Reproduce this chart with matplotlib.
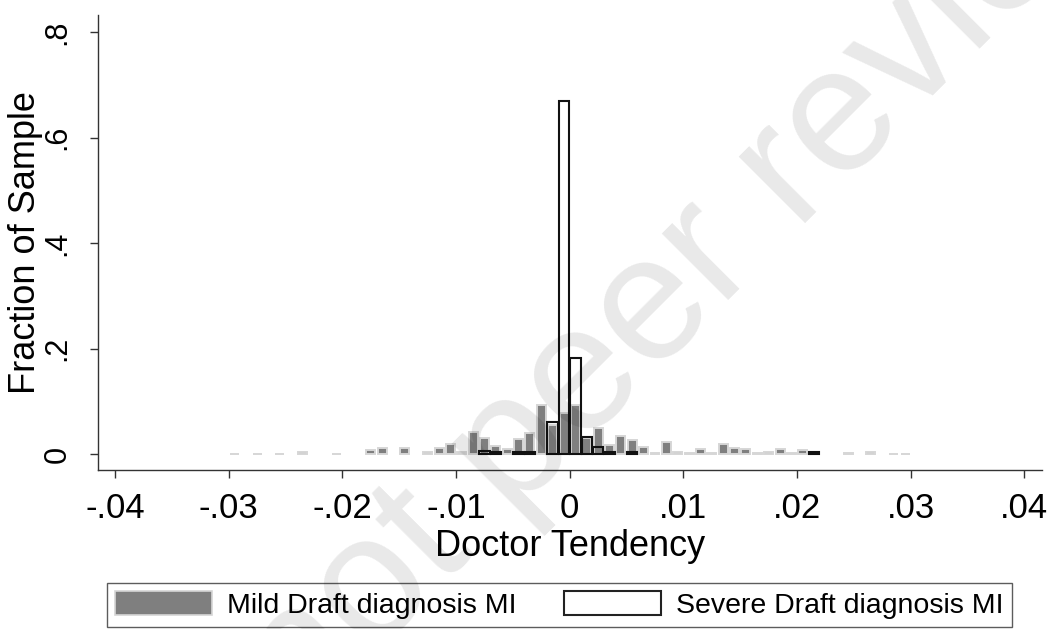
import matplotlib
matplotlib.use("Agg")
import matplotlib.pyplot as plt
from matplotlib.patches import Patch
import numpy as np

plt.rcParams['font.family'] = ['Liberation Sans', 'DejaVu Sans']

# ---- data (fraction of sample per bin of doctor tendency, bin width .001) ----
mild_centers = [-0.0295, -0.0275, -0.0255, -0.0235, -0.0205, -0.0175, -0.0165, -0.0145,
                -0.0125, -0.0115, -0.0105, -0.0095, -0.0085, -0.0075, -0.0065, -0.0055,
                -0.0045, -0.0035, -0.0025, -0.0015, -0.0005, 0.0005, 0.0015, 0.0025,
                0.0035, 0.0045, 0.0055, 0.0065, 0.0075, 0.0085, 0.0095, 0.0105,
                0.0115, 0.0125, 0.0135, 0.0145, 0.0155, 0.0165, 0.0175, 0.0185,
                0.0195, 0.0205, 0.0215, 0.0245, 0.0265, 0.0285, 0.0295]
mild_values = [0.0005, 0.0005, 0.0005, 0.003, 0.0005, 0.007, 0.012, 0.012,
               0.004, 0.011, 0.019, 0.003, 0.042, 0.031, 0.015, 0.009,
               0.029, 0.040, 0.092, 0.055, 0.077, 0.093, 0.030, 0.049,
               0.017, 0.034, 0.027, 0.013, 0.002, 0.023, 0.003, 0.002,
               0.009, 0.001, 0.019, 0.011, 0.009, 0.001, 0.004, 0.009,
               0.001, 0.008, 0.001, 0.002, 0.003, 0.0005, 0.0005]

severe_centers = [-0.0075, -0.0065, -0.0045, -0.0035, -0.0015, -0.0005, 0.0005,
                  0.0015, 0.0025, 0.0035, 0.0055, 0.0215]
severe_values = [0.005, 0.004, 0.004, 0.004, 0.060, 0.670, 0.182,
                 0.033, 0.014, 0.003, 0.004, 0.003]

x_ticks = [-0.04, -0.03, -0.02, -0.01, 0.0, 0.01, 0.02, 0.03, 0.04]
x_tick_labels = ['-.04', '-.03', '-.02', '-.01', '0', '.01', '.02', '.03', '.04']
y_ticks = [0.0, 0.2, 0.4, 0.6, 0.8]
y_tick_labels = ['0', '.2', '.4', '.6', '.8']

series_labels = ['Mild Draft diagnosis MI', 'Severe Draft diagnosis MI']

# ---- figure ----
fig = plt.figure(figsize=(10.52, 6.29), dpi=100)
ax = fig.add_axes([97.5 / 1052, 1 - 470 / 629, (1042 - 97.5) / 1052, (470 - 15) / 629])

ax.bar(mild_centers, mild_values, width=0.00079, color='#7f7f7f',
       edgecolor='#d6d6d6', linewidth=1.4, zorder=2)
ax.bar(severe_centers, severe_values, width=0.00092, facecolor='none',
       edgecolor='#111111', linewidth=1.5, zorder=3)

ax.set_xlim(-0.04155, 0.04155)
ax.set_ylim(-0.0304, 0.833)

for s in ['top', 'right']:
    ax.spines[s].set_visible(False)
for s in ['left', 'bottom']:
    ax.spines[s].set_color('#333333')
    ax.spines[s].set_linewidth(1.0)

ax.set_xticks(x_ticks)
ax.set_xticklabels(x_tick_labels, fontsize=25)
ax.set_yticks(y_ticks)
ax.set_yticklabels(y_tick_labels, fontsize=22, rotation=90, va='center')
ax.tick_params(axis='both', direction='out', length=6, width=1.0, color='#333333')
ax.tick_params(axis='x', pad=10)
ax.tick_params(axis='y', pad=12)

ax.set_xlabel('Doctor Tendency', fontsize=26)
ax.set_ylabel('Fraction of Sample', fontsize=26)
ax.xaxis.set_label_coords(0.5, -0.13)
ax.yaxis.set_label_coords(-0.058, 0.5)

handles = [Patch(facecolor='#7f7f7f', edgecolor='#d6d6d6', linewidth=1.2),
           Patch(facecolor='white', edgecolor='#222222', linewidth=1.5)]
leg = fig.legend(handles, series_labels, loc='lower left',
                 bbox_to_anchor=(107 / 1052, 2 / 629), ncol=2, fontsize=20.5,
                 frameon=True, fancybox=False, shadow=False,
                 handlelength=3.4, handleheight=0.9, handletextpad=0.55,
                 columnspacing=1.65, borderpad=0.28, borderaxespad=0.0)
leg.get_frame().set_edgecolor('#333333')
leg.get_frame().set_linewidth(1.0)

# diagonal watermark of the source page
fig.text(0.535, 0.26, 'Preprint not peer reviewed', rotation=45,
         rotation_mode='anchor', ha='center', va='baseline', fontsize=128,
         color='black', alpha=0.09, zorder=10)

fig.savefig('out.png', dpi=100, facecolor='white')
